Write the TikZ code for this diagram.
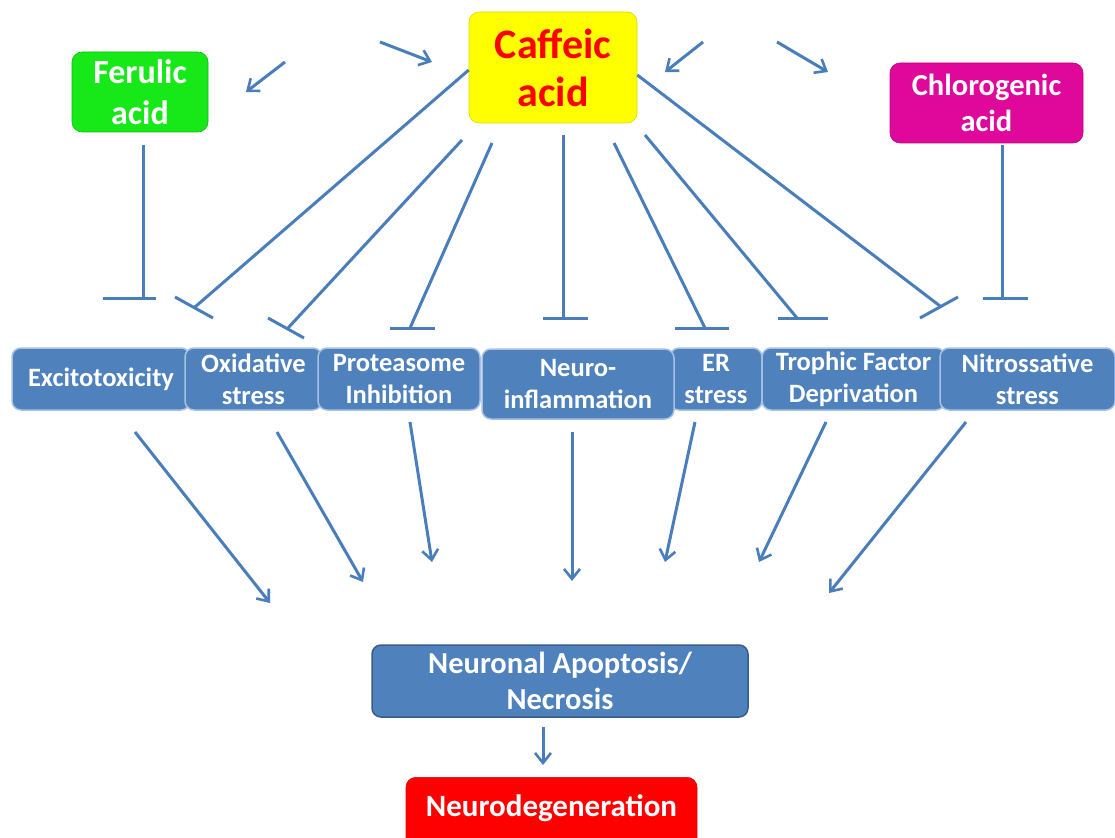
\documentclass[tikz,border=0pt]{standalone}
\usepackage{fontspec}
\setmainfont{Carlito}
\usetikzlibrary{arrows.meta}
\definecolor{linec}{HTML}{4A7EBB}
\definecolor{boxblue}{HTML}{4F81BD}
\definecolor{boxedge}{HTML}{A7C2E4}
\definecolor{darkedge}{HTML}{385D8A}
\definecolor{fgreen}{HTML}{17E817}
\definecolor{cmag}{HTML}{E0089A}
\definecolor{cyel}{HTML}{FFFF00}
\definecolor{nred}{HTML}{FF0000}
\tikzset{
  rowbox/.style={draw=boxedge, line width=1.5pt, fill=boxblue, rounded corners=9pt,
    text=white, font=\bfseries\fontsize{26.5}{32}\selectfont, align=center, inner sep=0pt,
    minimum height=62pt},
  topbox/.style={rounded corners=10pt, font=\bfseries, align=center, inner sep=0pt,
    text=white},
  conn/.style={draw=linec, line width=3pt},
  arr/.style={conn, -{Straight Barb[length=10pt,width=16pt,line width=2.6pt]}},
}
\begin{document}
\begin{tikzpicture}[x=1pt,y=-1pt]
\useasboundingbox (0,0) rectangle (1115,837);
\clip (0,0) rectangle (1115,837);

% top boxes
\node[topbox, fill=fgreen, draw=fgreen!80!black, line width=0.6pt, minimum width=136pt, minimum height=80pt,
  font=\bfseries\fontsize{34}{41}\selectfont] (fer) at (140,92) {Ferulic\\acid};
\node[topbox, fill=cyel, draw=cyel!85!black, line width=0.6pt, minimum width=168pt, minimum height=111pt,
  text=nred, font=\bfseries\fontsize{42}{48}\selectfont] (caf) at (553,67.5) {Caffeic\\acid};
\node[topbox, fill=cmag, draw=cmag!80!black, line width=0.6pt, minimum width=193pt, minimum height=80pt,
  font=\bfseries\fontsize{30.5}{36}\selectfont] (chl) at (986.5,103) {Chlorogenic\\acid};

% row boxes
\node[rowbox, minimum width=178pt] (exc) at (101,379) {Excitotoxicity};
\node[rowbox, minimum width=137pt] (oxi) at (253.5,379) {Oxidative\\stress};
\node[rowbox, minimum width=162pt] (pro) at (399,379) {Proteasome\\Inhibition};
\node[rowbox, minimum width=92pt] (er) at (716,379) {ER\\stress};
\node[rowbox, minimum width=183pt] (tro) at (853.5,379) {Trophic Factor\\Deprivation};
\node[rowbox, minimum width=175pt] (nit) at (1027.5,379) {Nitrossative\\stress};
\node[rowbox, minimum width=192pt, minimum height=70pt] (neu) at (578,384) {Neuro-\\inflammation};

% bottom boxes
\node[rowbox, draw=darkedge, minimum width=376pt, minimum height=72pt,
  font=\bfseries\fontsize{30.5}{36}\selectfont] (apo) at (560,681) {Neuronal Apoptosis/\\Necrosis};
\node[topbox, fill=nred, draw=nred!85!black, line width=0.6pt, minimum width=291pt, minimum height=80pt,
  anchor=north] (deg) at (551.5,777) {};
\node[text=white, font=\bfseries\fontsize{31}{36}\selectfont] (degt) at (551.5,808) {Neurodegeneration};

% decorative arrows near top
\coordinate (a1s) at (285,62); \coordinate (a1e) at (246,92);
\coordinate (a2s) at (380,42); \coordinate (a2e) at (432,62);
\coordinate (a3s) at (703,42); \coordinate (a3e) at (665,72);
\coordinate (a4s) at (777,42); \coordinate (a4e) at (828,72);
\draw[arr] (a1s) -- (a1e);
\draw[arr] (a2s) -- (a2e);
\draw[arr] (a3s) -- (a3e);
\draw[arr] (a4s) -- (a4e);

% inhibition lines
\coordinate (f0) at (143,145); \coordinate (f1) at (143,298);
\draw[conn] (f0) -- (f1); \draw[conn] (103,298) -- (156,298);

\coordinate (c1) at (195,307);
\draw[conn] (caf.west |- 0,70) -- (c1); \draw[conn] (175,297) -- (213,318);

\coordinate (c2s) at (462,140); \coordinate (c2) at (288,328);
\draw[conn] (c2s) -- (c2); \draw[conn] (268,318) -- (304,338);

\coordinate (c3s) at (492,143); \coordinate (c3) at (410,328);
\draw[conn] (c3s) -- (c3); \draw[conn] (390,328) -- (435,328);

\coordinate (c4s) at (563,135); \coordinate (c4) at (563,318);
\draw[conn] (c4s) -- (c4); \draw[conn] (543,318) -- (588,318);

\coordinate (c5s) at (614,143); \coordinate (c5) at (705,328);
\draw[conn] (c5s) -- (c5); \draw[conn] (675,328) -- (729,328);

\coordinate (c6s) at (645,135); \coordinate (c6) at (797,318);
\draw[conn] (c6s) -- (c6); \draw[conn] (778,318) -- (828,318);

\coordinate (c7) at (940,306);
\draw[conn] (caf.east |- 0,75) -- (c7); \draw[conn] (920,318) -- (958,297);

\coordinate (h0) at (1002,145); \coordinate (h1) at (1002,298);
\draw[conn] (h0) -- (h1); \draw[conn] (983,298) -- (1028,298);

% arrows to apoptosis
\coordinate (d1s) at (135,432); \coordinate (d1e) at (270,603);
\coordinate (d2s) at (277,432); \coordinate (d2e) at (363,582);
\coordinate (d3s) at (410,422); \coordinate (d3e) at (432,562);
\coordinate (d4s) at (572,432); \coordinate (d4e) at (572,581);
\coordinate (d5s) at (695,422); \coordinate (d5e) at (665,562);
\coordinate (d6s) at (826,422); \coordinate (d6e) at (759,562);
\coordinate (d7s) at (966,422); \coordinate (d7e) at (829,593);
\draw[arr] (d1s) -- (d1e);
\draw[arr] (d2s) -- (d2e);
\draw[arr] (d3s) -- (d3e);
\draw[arr] (d4s) -- (d4e);
\draw[arr] (d5s) -- (d5e);
\draw[arr] (d6s) -- (d6e);
\draw[arr] (d7s) -- (d7e);

\coordinate (e0) at (543,727); \coordinate (e1) at (543,765);
\draw[arr] (e0) -- (e1);
\end{tikzpicture}
\end{document}
